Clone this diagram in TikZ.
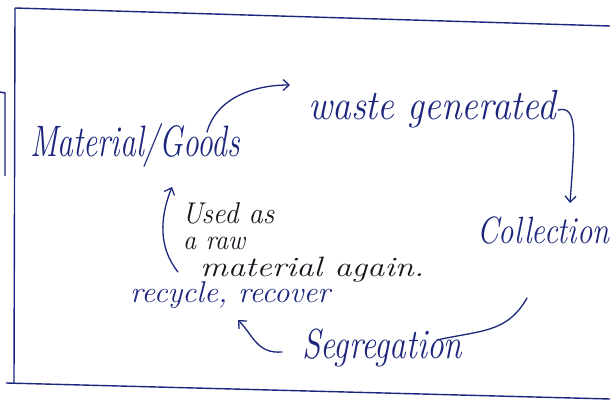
\documentclass[tikz,border=0pt]{standalone}
\usepackage{graphicx}
\usetikzlibrary{arrows.meta}
\definecolor{ink}{RGB}{28,38,125}
\definecolor{pencil}{RGB}{22,22,30}
% handwritten-looking label: fixed size, stretched sideways to a given width
\newcommand{\hwtext}[3]{\resizebox{#1pt}{\height}{\fontsize{#2}{#2}\selectfont\itshape #3}}
\tikzset{
  lbl/.style={inner sep=0pt, anchor=base west, text=ink},
  note/.style={lbl, text=pencil},
  flow/.style={draw=ink, line width=1.3pt, line cap=round,
    -{Straight Barb[length=6pt,width=11pt,line width=1.3pt]}},
  plainflow/.style={draw=ink, line width=1.3pt, line cap=round},
  frame/.style={draw=ink, line width=1.4pt}
}
\begin{document}
\begin{tikzpicture}[x=1pt,y=-1pt]
  \useasboundingbox (0,0) rectangle (610,406);
  \fill[white] (0,0) rectangle (610,406);
  % page frame
  \draw[frame] (15,8) -- (610,26);
  \draw[frame] (15,8) -- (14,383);
  \draw[frame] (6,383) -- (610,399);
  \draw[frame] (0,92) -- (5,93) -- (5,176);

  % labels
  \node[lbl] (mat) at (30,157) {\hwtext{210}{44}{Material/Goods}};
  \node[lbl] (waste) at (308,120) {\hwtext{248}{42}{waste generated}};
  \node[lbl] (coll) at (477,243) {\hwtext{132}{38}{Collection}};
  \node[lbl] (seg) at (302,358) {\hwtext{160}{42}{Segregation}};
  \node[lbl] (rec) at (130,302) {\hwtext{200}{30}{recycle, recover}};
  \node[note] (useda) at (182,223) {\hwtext{92}{30}{Used as}};
  \node[note] (usedb) at (183,249) {\hwtext{62}{28}{a raw}};
  \node[note] (usedc) at (200,276) {\hwtext{224}{28}{material again.}};

  % connectors
  \draw[flow] ([shift={(177,-25)}]mat.base west) .. controls +(10,-35) and +(-35,0) .. ([shift={(-18,-35)}]waste.base west);
  \draw[flow] ([shift={(250,-10)}]waste.base west) .. controls +(20,-5) and +(5,-70) .. ([shift={(93,-40)}]coll.base west);
  \draw[plainflow] ([shift={(50,55)}]coll.base west) .. controls +(-20,35) and +(45,-10) .. ([shift={(135,-18)}]seg.base west);
  \draw[flow] ([shift={(-20,-6)}]seg.base west) .. controls +(-25,2) and +(15,15) .. ([shift={(108,18)}]rec.base west);
  \draw[flow] ([shift={(-4,49)}]useda.base west) .. controls +(-20,-25) and +(-12,30) .. ([shift={(-10,-36)}]useda.base west);
\end{tikzpicture}
\end{document}
